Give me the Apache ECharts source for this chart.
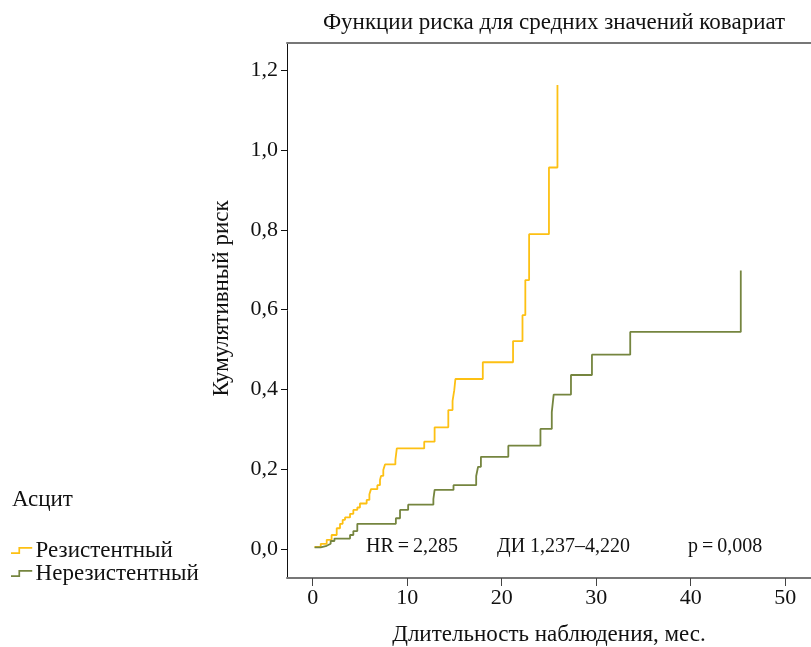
<!DOCTYPE html>
<html>
<head>
<meta charset="utf-8">
<script src="https://cdn.jsdelivr.net/npm/echarts@6/dist/echarts.min.js"></script>
<style>html,body{margin:0;padding:0;background:#fff}#c{width:811px;height:647px}</style>
</head>
<body>
<div id="c"></div>
<script>
// Data: cumulative hazard step functions (time in months, cumulative risk)
var resistantTimes = [0.2, 0.85, 1.48, 2.0, 2.54, 2.89, 3.17, 3.42, 3.95, 4.3, 4.72, 5.0, 5.71, 6.0, 6.17, 6.84, 7.12, 7.23, 7.47, 7.65, 8.75, 8.9, 11.8, 12.9, 14.35, 14.8, 14.98, 15.1, 18.0, 21.2, 22.2, 22.5, 22.9, 25.0, 25.9];
var resistantRisk  = [0.005, 0.013, 0.023, 0.035, 0.052, 0.063, 0.073, 0.079, 0.088, 0.098, 0.104, 0.114, 0.123, 0.137, 0.150, 0.160, 0.173, 0.183, 0.198, 0.212, 0.223, 0.252, 0.269, 0.305, 0.348, 0.371, 0.398, 0.426, 0.468, 0.521, 0.586, 0.674, 0.789, 0.956, 1.163];
var nonResistantTimes = [0.2, 0.85, 1.48, 1.9, 2.3, 3.95, 4.3, 4.72, 8.8, 9.24, 10.1, 12.77, 12.9, 14.9, 17.3, 17.5, 17.8, 20.7, 24.1, 25.3, 25.5, 27.33, 29.55, 33.6, 45.3];
var nonResistantRisk  = [0.004, 0.008, 0.013, 0.020, 0.026, 0.035, 0.045, 0.063, 0.077, 0.098, 0.111, 0.125, 0.148, 0.160, 0.183, 0.206, 0.231, 0.259, 0.301, 0.343, 0.387, 0.436, 0.487, 0.544, 0.698];
var seriesNames = ['Резистентный', 'Нерезистентный'];
var xTicks = [0, 10, 20, 30, 40, 50];
var yTicks = [0, 0.2, 0.4, 0.6, 0.8, 1.0, 1.2];
var chartTitle = 'Функции риска для средних значений ковариат';
var xName = 'Длительность наблюдения, мес.';
var yName = 'Кумулятивный риск';
var legendTitle = 'Асцит';
var statHR = 'HR\u2009=\u20092,285';
var statCI = 'ДИ 1,237–4,220';
var statP = 'p\u2009=\u20090,008';

function pairs(xs, ys) { return xs.map(function (x, i) { return [x, ys[i]]; }); }
var FONT = 'Liberation Serif';
var TXT = 23, NUM = 22;
var colors = ['#FDC013', '#75853F'];
var stepIcon = 'path://M0,5 L7,5 L7,0 L20,0 L20,1.6 L8.6,1.6 L8.6,6.6 L0,6.6 Z';

var chart = echarts.init(document.getElementById('c'), null, {renderer: 'canvas'});
chart.setOption({
  animation: false,
  backgroundColor: '#fff',
  textStyle: {fontFamily: FONT},
  title: [
    {text: chartTitle, left: 549, top: 6, textAlign: 'center',
     textStyle: {fontFamily: FONT, fontSize: TXT, fontWeight: 'normal', color: '#111'}},
    {text: legendTitle, left: 7, top: 483,
     textStyle: {fontFamily: FONT, fontSize: TXT, fontWeight: 'normal', color: '#111'}}
  ],
  legend: {
    orient: 'vertical', left: 6, top: 534, itemGap: 0,
    itemWidth: 22, itemHeight: 7, icon: stepIcon,
    textStyle: {fontFamily: FONT, fontSize: TXT, color: '#111', padding: [0, 0, 0, -2]},
    data: seriesNames
  },
  grid: {left: 287, right: 0, top: 43, bottom: 69, containLabel: false, outerBoundsMode: 'none'},
  xAxis: [{
    type: 'value', min: -2.72, max: 52.73,
    name: xName, nameLocation: 'middle', nameGap: 45,
    nameTextStyle: {fontFamily: FONT, fontSize: TXT, color: '#111'},
    axisLine: {show: true, onZero: false, lineStyle: {color: '#777', width: 2}},
    axisTick: {show: true, length: 8, lineStyle: {color: '#444', width: 1}, customValues: xTicks},
    axisLabel: {fontFamily: FONT, fontSize: NUM, color: '#111', margin: 9, customValues: xTicks,
      formatter: function (v) { return String(Math.round(v)); }},
    splitLine: {show: false}
  }, {
    type: 'value', position: 'top', min: -2.72, max: 52.73,
    axisLine: {show: true, onZero: false, lineStyle: {color: '#777', width: 2}},
    axisTick: {show: false}, axisLabel: {show: false}, splitLine: {show: false}
  }],
  yAxis: {
    type: 'value', min: -0.0727, max: 1.268,
    name: yName, nameLocation: 'middle', nameGap: 54, nameRotate: 90,
    nameTextStyle: {fontFamily: FONT, fontSize: TXT, color: '#111', padding: [0, 0, 0, 24]},
    axisLine: {show: true, onZero: false, lineStyle: {color: '#111', width: 1}},
    axisTick: {show: true, length: 6, lineStyle: {color: '#111'}, customValues: yTicks},
    axisLabel: {fontFamily: FONT, fontSize: NUM, color: '#111', margin: 9, customValues: yTicks,
      formatter: function (v) { return v.toFixed(1).replace('.', ','); }},
    splitLine: {show: false}
  },
  series: [
    {name: seriesNames[0], type: 'line', step: 'end', showSymbol: false, symbol: 'none',
     data: pairs(resistantTimes, resistantRisk), xAxisIndex: 0,
     itemStyle: {color: colors[0]}, lineStyle: {color: colors[0], width: 1.8}},
    {name: seriesNames[1], type: 'line', step: 'end', showSymbol: false, symbol: 'none',
     data: pairs(nonResistantTimes, nonResistantRisk), xAxisIndex: 0,
     itemStyle: {color: colors[1]}, lineStyle: {color: colors[1], width: 1.8}}
  ],
  graphic: [
    {type: 'text', left: 366, top: 537, style: {text: statHR, font: '20px "Liberation Serif"', fill: '#111'}},
    {type: 'text', left: 497, top: 537, style: {text: statCI, font: '20px "Liberation Serif"', fill: '#111'}},
    {type: 'text', left: 688, top: 537, style: {text: statP, font: '20px "Liberation Serif"', fill: '#111'}}
  ]
});
</script>
</body>
</html>
